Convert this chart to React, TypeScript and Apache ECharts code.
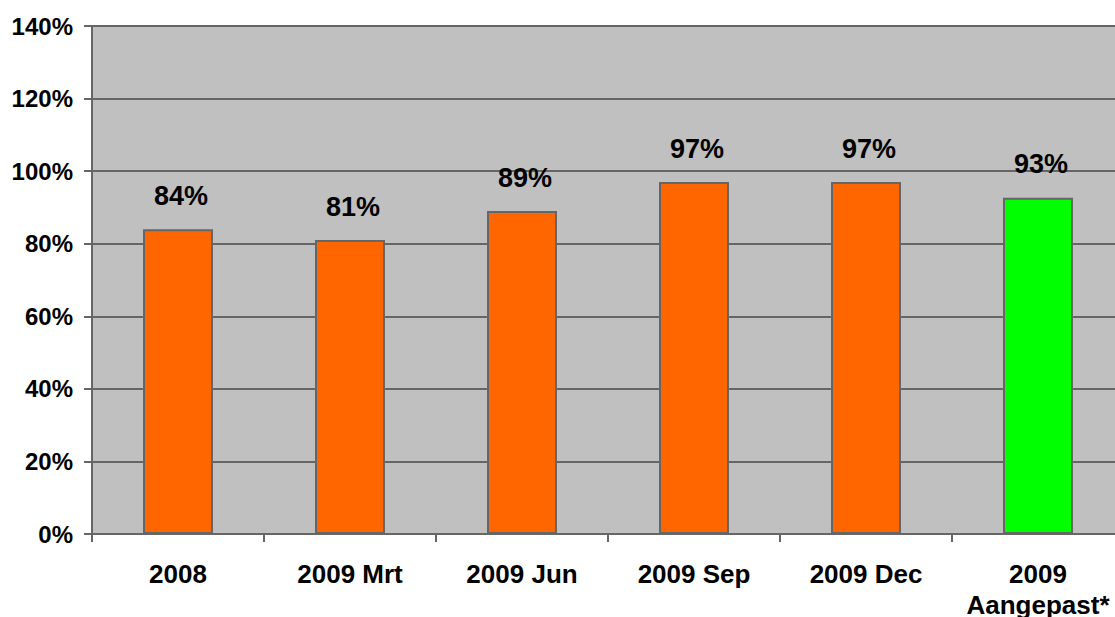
import React, { useEffect, useRef } from "react";
import * as echarts from "echarts";

const categories = ["2008", "2009 Mrt", "2009 Jun", "2009 Sep", "2009 Dec", "2009\nAangepast*"];
const values = [84, 81, 89, 97, 97, 92.7];
const barColors = ["#FF6600", "#FF6600", "#FF6600", "#FF6600", "#FF6600", "#00FF00"];
const yTicks = [0, 20, 40, 60, 80, 100, 120, 140];

export default function App() {
  const ref = useRef<HTMLDivElement>(null);
  useEffect(() => {
    const chart = echarts.init(ref.current!, null, { renderer: "svg" });
    const font = "'Liberation Sans', Arial, sans-serif";
    chart.setOption({
      animation: false,
      backgroundColor: "#ffffff",
      grid: {
        left: 92, right: 0, top: 26, bottom: 83,
        outerBoundsMode: "none",
        containLabel: false,
        backgroundColor: "#C0C0C0", show: true, borderWidth: 0,
      },
      xAxis: {
        type: "category",
        data: categories,
        axisLine: { lineStyle: { color: "#666666", width: 2 } },
        axisTick: { show: true, interval: 0, length: 8, lineStyle: { color: "#666666", width: 2 } },
        axisLabel: { interval: 0, color: "#000", fontFamily: font, fontWeight: "bold", fontSize: 26, margin: 24, lineHeight: 31 },
      },
      yAxis: {
        type: "value",
        min: yTicks[0],
        max: yTicks[yTicks.length - 1],
        interval: 20,
        axisLine: { show: true, lineStyle: { color: "#666666", width: 2 } },
        axisTick: { show: true, length: 8, lineStyle: { color: "#666666", width: 2 } },
        splitLine: { lineStyle: { color: "#666666", width: 2 } },
        axisLabel: { color: "#000", fontFamily: font, fontWeight: "bold", fontSize: 24, margin: 19, formatter: (v: number) => v + "%" },
      },
      series: [
        {
          type: "bar",
          barWidth: 70,
          data: values.map((v, i) => ({ value: v, itemStyle: { color: barColors[i] } })),
          itemStyle: { borderColor: "#666666", borderWidth: 2 },
          label: {
            show: true,
            position: "top",
            distance: 20,
            offset: [3, 0],
            color: "#000",
            fontFamily: font,
            fontWeight: "bold",
            fontSize: 27,
            formatter: (p: any) => Math.round(p.value) + "%",
          },
        },
      ],
    });
    return () => chart.dispose();
  }, []);
  return (
    <div style={{ position: "fixed", left: 0, top: 0, width: 1115, height: 617, overflow: "hidden" }}>
      <div ref={ref} style={{ width: 1124, height: 617 }} />
    </div>
  );
}
